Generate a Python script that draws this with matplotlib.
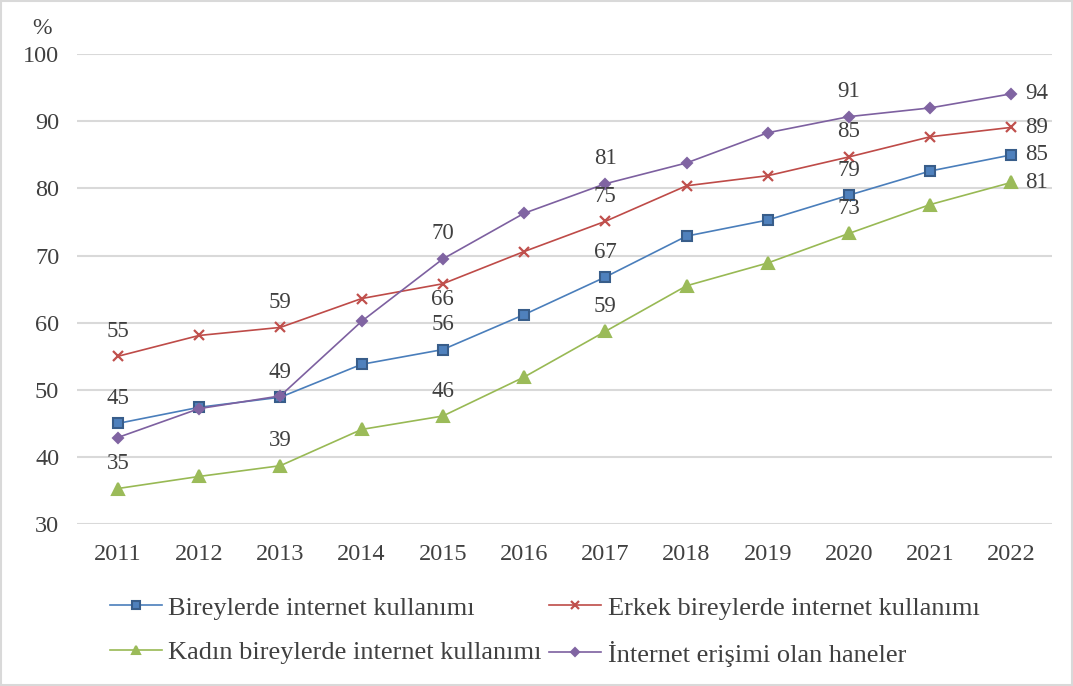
import matplotlib.pyplot as plt
from matplotlib.patches import Rectangle

plt.rcParams['font.family'] = ['Liberation Serif', 'DejaVu Serif']

years = ['2011', '2012', '2013', '2014', '2015', '2016', '2017', '2018', '2019', '2020', '2021', '2022']
bireyler = [45.0, 47.4, 48.9, 53.8, 56.0, 61.2, 66.8, 72.9, 75.3, 79.0, 82.6, 85.0]
erkek = [55.0, 58.1, 59.3, 63.6, 65.8, 70.6, 75.1, 80.4, 81.9, 84.7, 87.7, 89.1]
kadin = [35.3, 37.1, 38.7, 44.1, 46.1, 51.9, 58.7, 65.5, 68.9, 73.3, 77.6, 80.9]
haneler = [42.9, 47.2, 49.1, 60.2, 69.5, 76.3, 80.7, 83.8, 88.3, 90.7, 92.0, 94.1]

names = ['Bireylerde internet kullanımı', 'Erkek bireylerde internet kullanımı',
         'Kadın bireylerde internet kullanımı', 'İnternet erişimi olan haneler']

# which points get a value label
label_idx = [0, 2, 4, 6, 9]

fig = plt.figure(figsize=(10.73, 6.86), dpi=100)
ax = fig.add_axes([0.072, 0.236, 0.9085, 0.685])
fig.patches.append(Rectangle((0.001, 0.001), 0.998, 0.998, transform=fig.transFigure,
                             fill=False, edgecolor='#d9d9d9', linewidth=1.5))

x = list(range(len(years)))
series = [
    (bireyler, '#4a7ebb', 's', '#4f81bd', '#385d8a', 7),
    (erkek, '#be4b48', 'x', '#c0504d', '#c0504d', 7),
    (kadin, '#98b954', '^', '#9bbb59', '#9bbb59', 8),
    (haneler, '#7d60a0', 'D', '#8064a2', '#8064a2', 5.5),
]
lines = []
for (vals, lc, mk, mfc, mec, ms), nm in zip(series, names):
    l, = ax.plot(x, vals, color=lc, linewidth=1.2, marker=mk, markersize=ms,
                 markerfacecolor=mfc, markeredgecolor=mec, markeredgewidth=1.5 if mk != 'x' else 1.6,
                 label=nm, zorder=3)
    lines.append(l)

lab = dict(fontsize=16.5, color='#404040', ha='center', va='center')
for vals, skip in [(bireyler, []), (erkek, []), (kadin, []), (haneler, [0, 2])]:
    for i in label_idx:
        if i in skip:
            continue
        dy = 18
        if vals is erkek and i == 4:
            dy = -11
        ax.annotate('%d' % round(vals[i]), (i, vals[i]), xytext=(0, dy),
                    textcoords='offset points', **lab)
    ax.annotate('%d' % round(vals[-1]), (11, vals[-1]), xytext=(18, 0),
                textcoords='offset points', **lab)

ax.set_xlim(-0.5, 11.5)
ax.set_ylim(30, 100)
ax.set_yticks(range(30, 101, 10))
ax.set_xticks(x)
ax.set_xticklabels(years)
ax.grid(axis='y', color='#d9d9d9', linewidth=1.5)
ax.set_axisbelow(True)
for s in ax.spines.values():
    s.set_visible(False)
ax.tick_params(length=0, labelsize=17.5, labelcolor='#404040')
ax.tick_params(axis='x', pad=14.5)
ax.tick_params(axis='y', pad=13)
fig.text(0.039, 0.958, '%', fontsize=17, color='#404040', ha='center', va='center')

fig.legend(handles=[lines[0], lines[2], lines[1], lines[3]],
           labels=[names[0], names[2], names[1], names[3]],
           ncol=2, frameon=False, fontsize=19, loc='upper left',
           bbox_to_anchor=(0.1025, 0.131), borderpad=0, borderaxespad=0,
           handlelength=1.97, handletextpad=0.23,
           columnspacing=0.3, labelspacing=0.8, markerscale=0.75,
           labelcolor='#404040')

fig.savefig('out.png', dpi=100)
